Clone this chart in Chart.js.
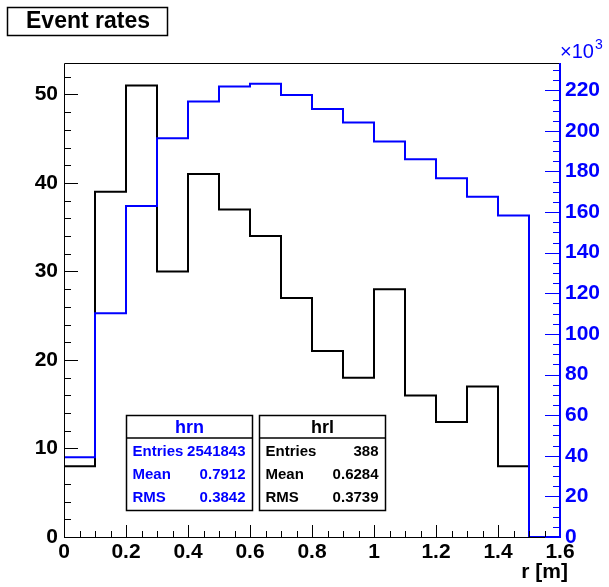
<!DOCTYPE html>
<html>
<head>
<meta charset="utf-8">
<script src="https://cdn.jsdelivr.net/npm/chart.js@4.4.1/dist/chart.umd.min.js"></script>
<style>
  body { margin: 0; background: #fff; }
  #wrap { width: 609px; height: 587px; }
</style>
</head>
<body>
<div id="wrap"><canvas id="c" width="609" height="587"></canvas></div>
<script>
// bin lower edges in r [m], bin width 0.1
const binLow = [0, 0.1, 0.2, 0.3, 0.4, 0.5, 0.6, 0.7, 0.8, 0.9, 1.0, 1.1, 1.2, 1.3, 1.4, 1.5];
const binWidth = 0.1;

// hrl (black, left axis)
const hrlCounts = [8, 39, 51, 30, 41, 37, 34, 27, 21, 18, 28, 16, 13, 17, 8, 0];
// hrn (blue, right axis)
const hrnCounts = [39300, 110200, 163000, 196400, 214400, 221800, 223200, 217700,
                   210700, 204100, 194700, 186000, 176700, 167500, 158300, 0];

// right axis labels (x10^3)
const rightTicks = [0, 20000, 40000, 60000, 80000, 100000, 120000, 140000, 160000, 180000, 200000, 220000];

const hrnStats = [['Entries', '2541843'], ['Mean', '0.7912'], ['RMS', '0.3842']];
const hrlStats = [['Entries', '388'], ['Mean', '0.6284'], ['RMS', '0.3739']];

const FONT = "'Liberation Sans', Arial, Helvetica, sans-serif";
const BLUE = '#0000ff';

function histPoints(counts) {
  const pts = binLow.map((x, i) => ({ x: x, y: counts[i] }));
  pts.push({ x: binLow[binLow.length - 1] + binWidth, y: counts[counts.length - 1] });
  return pts;
}

function drawStatBox(ctx, x, y, w, h, name, rows, color) {
  ctx.save();
  ctx.fillStyle = '#fff';
  ctx.fillRect(x, y, w, h);
  ctx.strokeStyle = '#000';
  ctx.lineWidth = 1.5;
  ctx.strokeRect(x, y, w, h);
  ctx.beginPath();
  ctx.moveTo(x, y + 22.5);
  ctx.lineTo(x + w, y + 22.5);
  ctx.stroke();
  ctx.fillStyle = color;
  ctx.textBaseline = 'middle';
  ctx.font = 'bold 18px ' + FONT;
  ctx.textAlign = 'center';
  ctx.fillText(name, x + w / 2, y + 13);
  ctx.font = 'bold 15px ' + FONT;
  rows.forEach((r, i) => {
    const ty = y + 36 + i * 23;
    ctx.textAlign = 'left';
    ctx.fillText(r[0], x + 6, ty);
    ctx.textAlign = 'right';
    ctx.fillText(r[1], x + w - 7, ty);
  });
  ctx.restore();
}

const rootFrame = {
  id: 'rootFrame',
  beforeDraw(chart) {
    const ctx = chart.ctx;
    ctx.save();
    ctx.fillStyle = '#fff';
    ctx.fillRect(0, 0, chart.width, chart.height);
    ctx.restore();
  },
  afterDraw(chart) {
    const { ctx, chartArea: a, scales } = chart;
    const sx = scales.x, sy = scales.y, sy2 = scales.y2;
    ctx.save();

    // frame
    ctx.strokeStyle = '#000';
    ctx.lineWidth = 1;
    ctx.beginPath();
    ctx.moveTo(a.left + 0.5, a.bottom + 0.5);
    ctx.lineTo(a.left + 0.5, a.top + 0.5);
    ctx.lineTo(a.right, a.top + 0.5);
    ctx.moveTo(a.left, a.bottom + 0.5);
    ctx.lineTo(a.right, a.bottom + 0.5);
    ctx.stroke();

    // x ticks (inside)
    ctx.beginPath();
    for (let i = 0; i <= 32; i++) {
      const px = Math.round(sx.getPixelForValue(i * 0.05)) + 0.5;
      const len = (i % 4 === 0) ? 12 : 6;
      ctx.moveTo(px, a.bottom);
      ctx.lineTo(px, a.bottom - len);
    }
    // left y ticks
    for (let v = 0; v <= 52; v += 2) {
      const py = Math.round(sy.getPixelForValue(v)) + 0.5;
      const len = (v % 10 === 0) ? 14 : 7;
      ctx.moveTo(a.left, py);
      ctx.lineTo(a.left + len, py);
    }
    ctx.stroke();

    // right axis (blue)
    ctx.strokeStyle = BLUE;
    ctx.lineWidth = 2;
    ctx.beginPath();
    ctx.moveTo(a.right, a.top);
    ctx.lineTo(a.right, a.bottom + 1);
    ctx.stroke();
    ctx.lineWidth = 1;
    ctx.beginPath();
    for (let v = 0; v <= 230000; v += 5000) {
      const py = Math.round(sy2.getPixelForValue(v)) + 0.5;
      const len = (v % 20000 === 0) ? 15 : 7;
      ctx.moveTo(a.right, py);
      ctx.lineTo(a.right - len, py);
    }
    ctx.stroke();

    // x10^3
    ctx.fillStyle = BLUE;
    ctx.textBaseline = 'alphabetic';
    ctx.textAlign = 'left';
    ctx.font = '20px ' + FONT;
    ctx.fillText('\u00d710', a.right, 58);
    const w = ctx.measureText('\u00d710').width;
    ctx.font = '14px ' + FONT;
    ctx.fillText('3', a.right + w + 1, 49);

    // axis title
    ctx.fillStyle = '#000';
    ctx.font = 'bold 21px ' + FONT;
    ctx.textAlign = 'right';
    ctx.fillText('r [m]', 568, 578);

    // title box
    ctx.lineWidth = 1.5;
    ctx.strokeStyle = '#000';
    ctx.fillStyle = '#fff';
    ctx.fillRect(7.5, 7.5, 160, 28);
    ctx.strokeRect(7.5, 7.5, 160, 28);
    ctx.fillStyle = '#000';
    ctx.font = 'bold 23px ' + FONT;
    ctx.textAlign = 'center';
    ctx.textBaseline = 'middle';
    ctx.fillText('Event rates', 88, 22);
    ctx.restore();

    drawStatBox(ctx, 126.5, 415.5, 126, 95, 'hrn', hrnStats, BLUE);
    drawStatBox(ctx, 259.5, 415.5, 126, 95, 'hrl', hrlStats, '#000');
  }
};

new Chart(document.getElementById('c'), {
  type: 'line',
  data: {
    datasets: [
      {
        label: 'hrn',
        data: histPoints(hrnCounts),
        yAxisID: 'y2',
        borderColor: BLUE,
        borderWidth: 2,
        stepped: 'before',
        pointRadius: 0,
        fill: false
      },
      {
        label: 'hrl',
        data: histPoints(hrlCounts),
        yAxisID: 'y',
        borderColor: '#000',
        borderWidth: 2,
        stepped: 'before',
        pointRadius: 0,
        fill: false
      }
    ]
  },
  options: {
    responsive: false,
    animation: false,
    events: [],
    layout: { padding: { top: 63, left: 0, right: 0, bottom: 0 } },
    plugins: { legend: { display: false }, tooltip: { enabled: false } },
    scales: {
      x: {
        type: 'linear',
        min: 0,
        max: 1.6,
        grid: { display: false, drawTicks: false },
        border: { display: false },
        ticks: {
          stepSize: 0.2,
          padding: 3,
          color: '#000',
          maxRotation: 0,
          autoSkip: false,
          maxTicksLimit: 20,
          font: { family: FONT, size: 21, weight: 'bold' },
          callback: v => String(Math.round(v * 10) / 10)
        },
        afterFit(s) { s.height = 50; }
      },
      y: {
        position: 'left',
        min: 0,
        max: 53.55,
        grid: { display: false, drawTicks: false },
        border: { display: false },
        ticks: {
          stepSize: 10,
          includeBounds: false,
          maxTicksLimit: 20,
          padding: 6,
          color: '#000',
          font: { family: FONT, size: 21, weight: 'bold' }
        },
        afterFit(s) { s.width = 64; }
      },
      y2: {
        position: 'right',
        min: 0,
        max: 233400,
        grid: { display: false, drawTicks: false },
        border: { display: false },
        afterBuildTicks(s) { s.ticks = rightTicks.map(v => ({ value: v })); },
        ticks: {
          autoSkip: false,
          padding: 5,
          color: BLUE,
          font: { family: FONT, size: 21, weight: 'bold' },
          callback: v => String(Math.round(v / 1000))
        },
        afterFit(s) { s.width = 49; }
      }
    }
  },
  plugins: [rootFrame]
});
</script>
</body>
</html>
